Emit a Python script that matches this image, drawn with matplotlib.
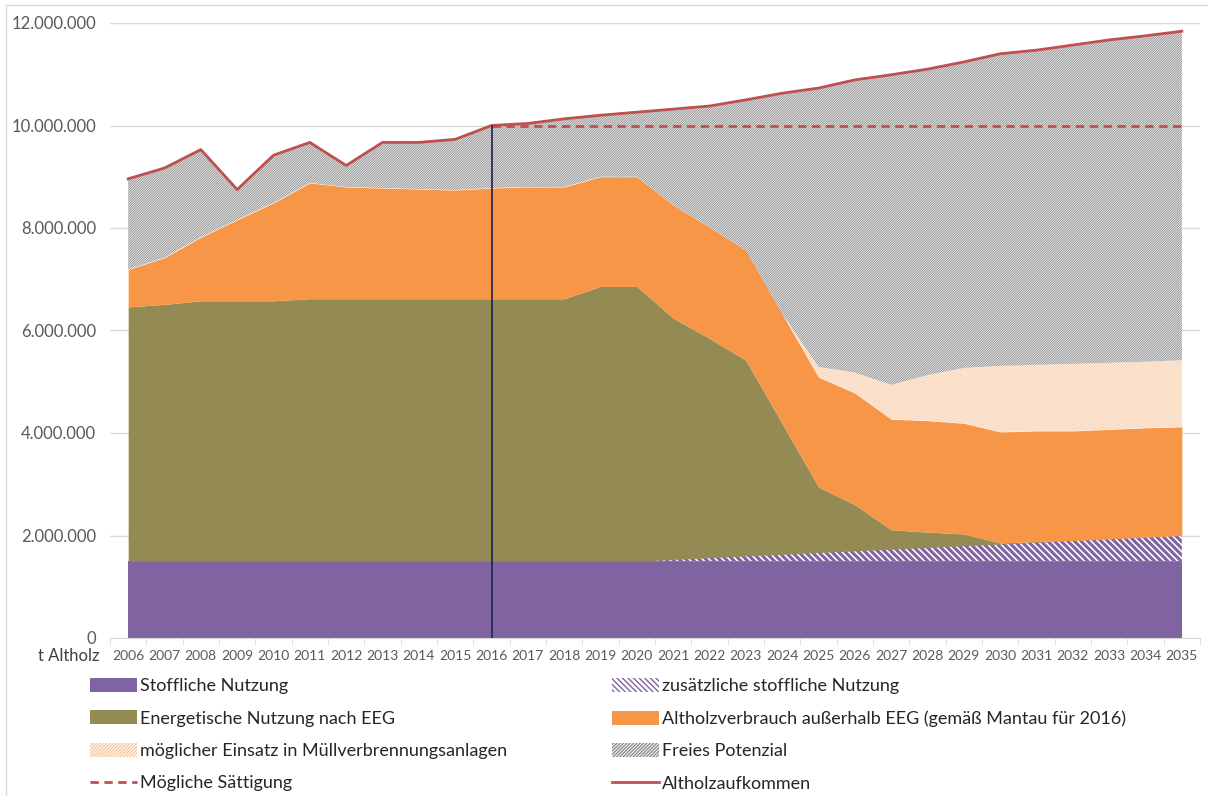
import numpy as np
import matplotlib.pyplot as plt
from matplotlib.patches import Patch, Rectangle
from matplotlib.lines import Line2D
from matplotlib.ticker import FuncFormatter

plt.rcParams['font.family'] = ['Lato', 'DejaVu Sans']

years = np.arange(2006, 2036)

# stacked layers, in tonnes
stofflich = np.full(30, 1_500_000)
zusaetzlich = np.array([0] * 15 + [33_000, 67_000, 100_000, 133_000, 167_000, 200_000, 233_000,
                                   267_000, 300_000, 333_000, 367_000, 400_000, 433_000, 467_000, 500_000])
energetisch = np.array([4_960_000, 5_010_000, 5_080_000, 5_080_000, 5_080_000, 5_120_000, 5_120_000,
                        5_120_000, 5_120_000, 5_120_000, 5_120_000, 5_120_000, 5_120_000, 5_360_000,
                        5_360_000, 4_710_000, 4_280_000, 3_820_000, 2_550_000, 1_280_000, 900_000,
                        380_000, 300_000, 230_000, 20_000, 15_000, 0, 0, 0, 0])
# top edge of the orange layer
orange_top = np.array([7_190_000, 7_420_000, 7_820_000, 8_160_000, 8_490_000, 8_880_000, 8_800_000,
                       8_780_000, 8_760_000, 8_740_000, 8_780_000, 8_800_000, 8_800_000, 9_000_000,
                       9_000_000, 8_450_000, 8_020_000, 7_570_000, 6_330_000, 5_090_000, 4_780_000,
                       4_270_000, 4_240_000, 4_190_000, 4_020_000, 4_040_000, 4_040_000, 4_070_000,
                       4_100_000, 4_120_000])
# top edge of the possible waste incineration layer
mva_top = np.array([0] * 19 + [5_290_000, 5_180_000, 4_940_000, 5_130_000, 5_270_000, 5_310_000,
                               5_330_000, 5_350_000, 5_370_000, 5_390_000, 5_420_000])
aufkommen = np.array([8_960_000, 9_170_000, 9_530_000, 8_750_000, 9_420_000, 9_670_000, 9_220_000,
                      9_670_000, 9_670_000, 9_730_000, 10_000_000, 10_040_000, 10_130_000, 10_200_000,
                      10_260_000, 10_320_000, 10_380_000, 10_500_000, 10_630_000, 10_730_000,
                      10_890_000, 10_990_000, 11_100_000, 11_240_000, 11_400_000, 11_470_000,
                      11_570_000, 11_670_000, 11_750_000, 11_840_000])
saettigung = 10_000_000
saettigung_start = 2016

l1 = stofflich
l2 = l1 + zusaetzlich
l3 = l2 + energetisch
l4 = orange_top
l5 = np.where(mva_top > 0, mva_top, l4)
l6 = aufkommen

purple = '#8064A2'
olive = '#948A54'
orange = '#F79646'
light_orange = '#F8C8A0'
grey_hatch = '#8C8C8C'
red = '#C0504D'

fig = plt.figure(figsize=(12.08, 7.96), dpi=100)
ax = fig.add_axes([110 / 1208, 1 - 638 / 796, 1090 / 1208, 615 / 796])

ax.fill_between(years, 0, l1, color=purple, lw=0)
with plt.rc_context({'hatch.linewidth': 2.2}):
    ax.fill_between(years, l1, l2, facecolor='white', edgecolor=purple, hatch='\\' * 5, lw=0)
ax.fill_between(years, l2, l3, color=olive, lw=0)
ax.fill_between(years, l3, l4, color=orange, lw=0)
with plt.rc_context({'hatch.linewidth': 0.6}):
    ax.fill_between(years, l4, l5, facecolor='#FEF3EA', edgecolor=light_orange, hatch='/' * 12, lw=0)
    ax.fill_between(years, l5, l6, facecolor='#EFEFEF', edgecolor=grey_hatch, hatch='/' * 14, lw=0)

ax.plot(years, aufkommen, color=red, lw=2)
mask = years >= saettigung_start
ax.plot(years[mask], np.full(mask.sum(), saettigung), color=red, lw=2, ls=(0, (3, 2)))
ax.plot([saettigung_start, saettigung_start], [0, saettigung], color='#1F2050', lw=1.2)

ax.set_xlim(2005.5, 2035.5)
ax.set_ylim(0, 12_000_000)
ax.set_yticks(np.arange(0, 12_000_001, 2_000_000))
ax.yaxis.set_major_formatter(FuncFormatter(lambda v, p: f'{int(v):,}'.replace(',', '.')))
ax.set_xticks(years)
ax.set_xticks(np.arange(2005.5, 2036, 1), minor=True)
ax.tick_params(axis='x', which='major', length=0, labelsize=10, labelcolor='#595959', pad=9)
ax.tick_params(axis='x', which='minor', length=5, color='#D9D9D9')
ax.tick_params(axis='y', length=0, labelsize=12, labelcolor='#595959', pad=10)
ax.grid(axis='y', color='#D9D9D9', lw=1)
ax.set_axisbelow(True)
for s in ['top', 'right', 'left']:
    ax.spines[s].set_visible(False)
ax.spines['bottom'].set_color('#D9D9D9')

fig.text(38 / 1208, 1 - 656 / 796, 't Altholz', fontsize=12, color='#404040', va='center')

with plt.rc_context({'hatch.linewidth': 0.8}):
    handles_left = [
        Patch(facecolor=purple, lw=0),
        Patch(facecolor=olive, lw=0),
        Patch(facecolor='white', edgecolor=light_orange, hatch='/' * 10, lw=0),
        Line2D([], [], color=red, lw=2, ls=(0, (3, 2))),
    ]
    handles_right = [
        Patch(facecolor='white', edgecolor=purple, hatch='\\' * 6, lw=0),
        Patch(facecolor=orange, lw=0),
        Patch(facecolor='white', edgecolor=grey_hatch, hatch='/' * 10, lw=0),
        Line2D([], [], color=red, lw=2),
    ]
labels_left = ['Stoffliche Nutzung', 'Energetische Nutzung nach EEG',
               'möglicher Einsatz in Müllverbrennungsanlagen', 'Mögliche Sättigung']
labels_right = ['zusätzliche stoffliche Nutzung',
                'Altholzverbrauch außerhalb EEG (gemäß Mantau für 2016)',
                'Freies Potenzial', 'Altholzaufkommen']
leg_kw = dict(frameon=False, fontsize=13, handlelength=2.6, handleheight=0.8,
              handletextpad=0.15, labelspacing=0.9, borderaxespad=0, borderpad=0,
              loc='upper left', labelcolor='#262626')
fig.legend(handles_left, labels_left, bbox_to_anchor=(90 / 1208, 1 - 678 / 796), **leg_kw)
fig.legend(handles_right, labels_right, bbox_to_anchor=(612 / 1208, 1 - 678 / 796), **leg_kw)

fig.patches.append(Rectangle((6 / 1208, -0.01), 1, 1 - 5 / 796 + 0.01, transform=fig.transFigure,
                             fill=False, edgecolor='#D9D9D9', lw=1))

fig.savefig('out.png', dpi=100)
